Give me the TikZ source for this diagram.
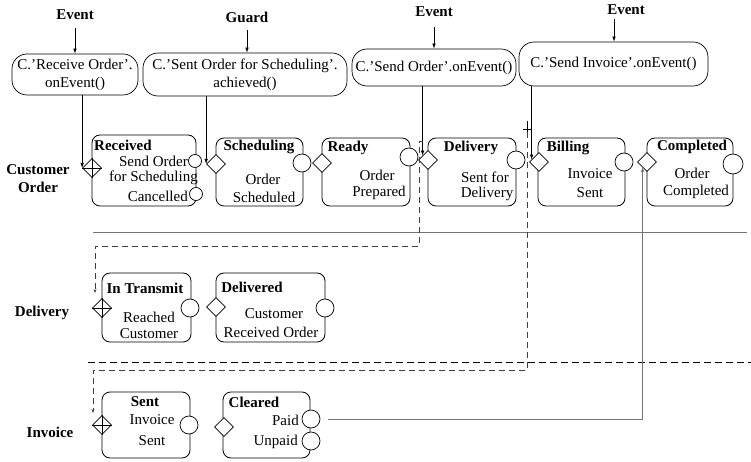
\documentclass[tikz,border=0pt]{standalone}
\usepackage{fontspec}
\setmainfont{Liberation Serif}
\usetikzlibrary{shapes.geometric,arrows.meta,calc}

\begin{document}
\begin{tikzpicture}[x=1pt,y=-1pt,
  every node/.style={font=\fontsize{15}{18}\selectfont},
  lbl/.style={inner sep=0pt},
  ttl/.style={inner sep=0pt,font=\fontsize{15}{18}\selectfont\bfseries},
  cond/.style={draw,rounded corners=15pt,line width=0.7pt,inner sep=2pt,align=center},
  state/.style={draw,rounded corners=8pt,line width=0.8pt,inner sep=0pt},
  port/.style={draw,circle,fill=white,line width=0.7pt,inner sep=0pt,minimum size=18pt},
  smallport/.style={port,minimum size=13pt},
  entry/.style={draw,diamond,fill=white,line width=0.7pt,inner sep=0pt,minimum width=19pt,minimum height=19pt},
  arr/.style={line width=0.6pt,-{Latex[length=5pt,width=3.5pt]}},
  dcon/.style={line width=0.7pt,black!75,dash pattern=on 6pt off 4pt,-{Stealth[length=4pt,width=3pt]}},
  dotcon/.style={line width=0.8pt,black!55,-{Stealth[length=5pt,width=3.5pt]}},
]
\useasboundingbox (0,0) rectangle (751,462);

% ---------- trigger labels and condition boxes ----------
\node[ttl] (ev1) at (75,15) {Event};
\node[ttl] (grd) at (247,17) {Guard};
\node[ttl] (ev3) at (434,12) {Event};
\node[ttl] (ev4) at (626,10) {Event};
\coordinate (ev4foot) at (614,19);

\node[cond, minimum width=126pt, minimum height=41pt] (c1) at (75,74.5) {C.’Receive Order’.\\onEvent()};
\node[cond, minimum width=204pt, minimum height=43pt] (c2) at (245,74.5) {C.’Sent Order for Scheduling’.\\achieved()};
\node[cond, minimum width=164pt, minimum height=37pt] (c3) at (434,67.5) {C.’Send Order’.onEvent()};
\node[cond, minimum width=189pt, minimum height=44pt] (c4) at (613.5,64) {C.’Send Invoice’.onEvent()};

\draw[arr] ([yshift=-8pt]ev1.south) -- (c1.north);
\draw[arr] ([yshift=-8pt]grd.south) -- (grd.south |- c2.north);
\draw[arr] ([yshift=-10pt]ev3.south) -- (c3.north);
\draw[arr] (ev4foot) -- (ev4foot |- c4.north);

% ---------- lane labels and separators ----------
\node[ttl,align=center] (rowco) at (38,179) {Customer\\Order};
\node[ttl] (rowdl) at (42,313) {Delivery};
\node[ttl] (rowin) at (50,432) {Invoice};

\coordinate (sepA0) at (93,232);
\coordinate (sepA1) at (747,232);
\coordinate (sepB0) at (88,362);
\coordinate (sepB1) at (751,362);
\draw[line width=1pt,black!55] (sepA0) -- (sepA1);
\draw[line width=0.8pt,dash pattern=on 7pt off 4pt] (sepB0) -- (sepB1);

% ---------- Customer Order lane ----------
\node[state, minimum width=104pt, minimum height=71pt] (sRec) at (144,170.5) {};
\node[state, minimum width=87pt, minimum height=68pt] (sSch) at (259.5,172) {};
\node[state, minimum width=88pt, minimum height=68pt] (sRdy) at (366,172) {};
\node[state, minimum width=88pt, minimum height=68pt] (sDlv) at (472,172) {};
\node[state, minimum width=87pt, minimum height=68pt] (sBil) at (581.5,172) {};
\node[state, minimum width=86pt, minimum height=68pt] (sCmp) at (690,172) {};

\node[smallport] (pRec1) at (195,161) {};
\node[smallport] (pRec2) at (196,194) {};
\node[port] (pSch) at (302,163) {};
\node[port] (pRdy) at (409,157) {};
\node[port] (pDlv) at (516,160) {};
\node[port] (pBil) at (624,162) {};
\node[port,minimum size=20pt] (pCmp) at (733,164) {};

\node[entry] (dRec) at (92,168) {};
\draw[line width=0.7pt] (dRec.north) -- (dRec.south) (dRec.west) -- (dRec.east);
\node[entry] (dSch) at (216,164) {};
\node[entry] (dRdy) at (322,163) {};
\node[entry] (dDlv) at (428,160) {};
\node[entry] (dBil) at (539,162) {};
\node[entry] (dCmp) at (647,162) {};

\node[ttl,anchor=west] (tRec) at (94,145) {Received};
\node[lbl,anchor=east] (tRec1) at (188,161) {Send Order};
\node[lbl,anchor=east] (tRec2) at (198,178) {for Scheduling};
\node[lbl,anchor=east] (tRec3) at (188,196) {Cancelled};

\node[ttl] (tSch) at (259,147) {Scheduling};
\node[lbl] (tSch1) at (263,179) {Order};
\node[lbl] (tSch2) at (264,197) {Scheduled};

\node[ttl] (tRdy) at (348,148) {Ready};
\node[lbl] (tRdy1) at (377,175) {Order};
\node[lbl] (tRdy2) at (379,193) {Prepared};

\node[ttl] (tDlv) at (471,148) {Delivery};
\node[lbl] (tDlv1) at (485,177) {Sent for};
\node[lbl] (tDlv2) at (487,194) {Delivery};

\node[ttl] (tBil) at (568,148) {Billing};
\node[lbl] (tBil1) at (590,174) {Invoice};
\node[lbl] (tBil2) at (590,193) {Sent};

\node[ttl] (tCmp) at (692,147) {Completed};
\node[lbl] (tCmp1) at (692,173) {Order};
\node[lbl] (tCmp2) at (696,192) {Completed};

% ---------- Delivery lane ----------
\node[state, minimum width=89pt, minimum height=69pt] (sTrn) at (146.5,307.5) {};
\node[state, minimum width=109pt, minimum height=69pt] (sDvd) at (270.5,307.5) {};
\node[port] (pTrn) at (190,308) {};
\node[port] (pDvd) at (325,308) {};
\node[entry] (dTrn) at (102,308) {};
\draw[line width=0.7pt] (dTrn.north) -- (dTrn.south) (dTrn.west) -- (dTrn.east);
\node[entry] (dDvd) at (216,307) {};

\node[ttl] (tTrn) at (145,288) {In Transmit};
\node[lbl] (tTrn1) at (149,317) {Reached};
\node[lbl] (tTrn2) at (149,334) {Customer};
\node[ttl] (tDvd) at (252,287) {Delivered};
\node[lbl] (tDvd1) at (274,314) {Customer};
\node[lbl] (tDvd2) at (271,332) {Received Order};

% ---------- Invoice lane ----------
\node[state, minimum width=88pt, minimum height=66pt] (sSnt) at (146,425) {};
\node[state, minimum width=87pt, minimum height=66pt] (sClr) at (266.5,425) {};
\node[port] (pSnt) at (189,425) {};
\node[port] (pPaid) at (311,419) {};
\node[port] (pUnp) at (311,441) {};
\node[entry] (dSnt) at (102,425) {};
\draw[line width=0.7pt] (dSnt.north) -- (dSnt.south) (dSnt.west) -- (dSnt.east);
\node[entry] (dClr) at (224,427) {};

\node[ttl] (tSnt) at (145,402) {Sent};
\node[lbl] (tSnt1) at (152,420) {Invoice};
\node[lbl] (tSnt2) at (152,441) {Sent};
\node[ttl] (tClr) at (254,402) {Cleared};
\node[lbl,anchor=east] (tClr1) at (299,420) {Paid};
\node[lbl,anchor=east] (tClr2) at (298,442) {Unpaid};

% ---------- triggers into entry points ----------
\coordinate (dlvIn) at ($(dDlv.west)!0.45!(dDlv.north)$);
\coordinate (bilIn) at ($(dBil.west)!0.25!(dBil.north)$);
\draw[arr] (c1.south -| dRec.west) -- (dRec.west);
\draw[arr] (c2.south -| dSch.west) -- (dSch.west);
\draw[arr] (c3.south -| dlvIn) -- (dlvIn);
\draw[arr] (c4.south -| bilIn) -- (bilIn);

% ---------- cross-lane links ----------
\coordinate (a0) at (423,141);
\coordinate (a1) at (419,141);
\coordinate (a2) at (419,246);
\coordinate (a3) at (95,246);
\coordinate (trnIn) at (95,293);
\draw[dcon] (a0) -- (a1) -- (a2) -- (a3) -- (trnIn);

\coordinate (b0) at (527,121);
\coordinate (b1) at (527,132);
\coordinate (bt0) at (523,129);
\coordinate (bt1) at (531,129);
\coordinate (b2) at (527,370);
\coordinate (b3) at (93,370);
\coordinate (sntIn) at (93,413);
\draw[line width=0.6pt] (b0) -- (b1) (bt0) -- (bt1);
\draw[dcon] (b1) -- (b2) -- (b3) -- (sntIn);

\coordinate (cmpIn) at ($(dCmp.west)!0.55!(dCmp.south)$);
\draw[dotcon] ([xshift=8pt]pPaid.east) -| (cmpIn);
\end{tikzpicture}
\end{document}
